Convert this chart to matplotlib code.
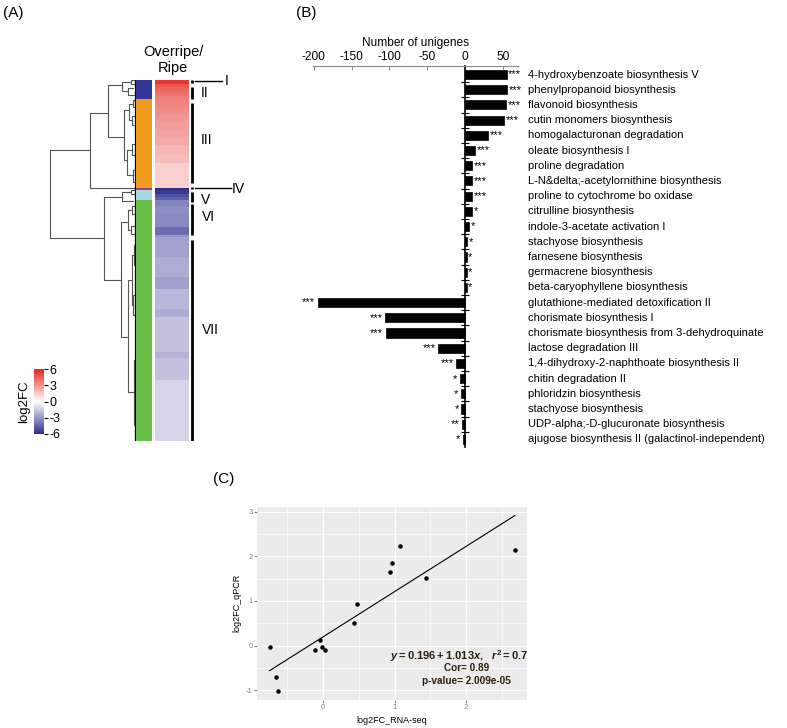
import matplotlib.pyplot as plt
import matplotlib.colors as mcolors
import numpy as np

plt.rcParams['font.family'] = ['Liberation Sans', 'DejaVu Sans']
plt.rcParams['axes.unicode_minus'] = False

# ---------------- data ----------------
# (A) heatmap bands: rows per band and log2FC value, top to bottom
heat_counts = [4, 3, 3, 3, 3, 3, 5, 5, 6, 6, 8, 8, 8, 9, 9, 25, 2, 4, 3, 3,
               6, 8, 13, 8, 2, 20, 20, 12, 20, 8, 35, 6, 22, 61]
heat_values = [5.5, 4.6, 4.3, 4.0, 3.8, 3.6, 3.5, 3.3, 3.1, 2.9, 2.7, 2.5, 2.3,
               2.0, 1.8, 1.3, -6.0, -5.6, -5.0, -4.5, -3.5, -3.2, -3.3, -4.1,
               -3.0, -2.6, -2.3, -2.7, -2.0, -2.3, -1.7, -2.2, -1.7, -1.2]
cluster_counts = [19, 89, 2, 10, 241]
cluster_colors = ['#34379A', '#F09C1E', '#9B3C8E', '#A6D9DB', '#6CC04A']

# cluster brackets (row start, row end) and labels
bracket_rows = [(0, 3), (7, 19), (23, 103), (107, 109), (112, 122), (124, 155), (160, 361)]
cluster_names = ['I', 'II', 'III', 'IV', 'V', 'VI', 'VII']
name_pos = [(38, 1), (16, 13), (18, 60), (49, 109), (17, 120), (19, 137), (21, 250)]

# dendrogram links: (merge height, row a, height a, row b, height b)
dendro_links = [
    (86, 70, 46, 158, 32),
    (46, 33, 28, 108, 1),
    (28, 5, 14, 57, 12),
    (14, 2, 5, 11, 8), (8, 8, 3, 15, 2), (5, 0, 1, 4, 2),
    (12, 30, 7, 80, 9), (7, 24, 3, 40, 4), (9, 70, 4, 95, 3),
    (4, 36, 1, 45, 2), (3, 20, 1, 27, 1), (4, 64, 1, 75, 2), (3, 90, 1, 102, 1),
    (32, 117, 14, 200, 15),
    (14, 112, 5, 121, 3), (5, 110, 1, 114, 2),
    (15, 142, 8, 257, 8),
    (8, 130, 4, 150, 5), (5, 146, 2, 154, 1), (4, 126, 1, 134, 2),
    (8, 200, 4, 312, 2),
    (4, 175, 2, 225, 3), (3, 215, 1, 235, 1), (2, 165, 0, 185, 1),
    (2, 280, 1, 345, 1), (1, 270, 0, 290, 0), (1, 335, 0, 355, 0),
]

# (B) pathways
pathways = [
    '4-hydroxybenzoate biosynthesis V', 'phenylpropanoid biosynthesis',
    'flavonoid biosynthesis', 'cutin monomers biosynthesis',
    'homogalacturonan degradation', 'oleate biosynthesis I', 'proline degradation',
    'L-N&delta;-acetylornithine biosynthesis', 'proline to cytochrome bo oxidase',
    'citrulline biosynthesis', 'indole-3-acetate activation I',
    'stachyose biosynthesis', 'farnesene biosynthesis', 'germacrene biosynthesis',
    'beta-caryophyllene biosynthesis', 'glutathione-mediated detoxification II',
    'chorismate biosynthesis I', 'chorismate biosynthesis from 3-dehydroquinate',
    'lactose degradation III', '1,4-dihydroxy-2-naphthoate biosynthesis II',
    'chitin degradation II', 'phloridzin biosynthesis', 'stachyose biosynthesis',
    'UDP-alpha;-D-glucuronate biosynthesis',
    'ajugose biosynthesis II (galactinol-independent)',
]
unigenes = [55, 56, 54, 52, 31, 13, 9, 9, 9, 9, 5, 3, 2, 2, 2,
            -195, -106, -105, -36, -12, -7, -6, -5, -4, -3]
stars = ['***'] * 9 + ['*'] * 6 + ['***'] * 5 + ['*', '*', '*', '**', '*']

# (C) qPCR validation
rnaseq = [-0.744, -0.656, -0.633, -0.107, -0.037, -0.009, 0.023, 0.433,
          0.479, 0.940, 0.967, 1.079, 1.442, 2.679]
qpcr = [-0.04, -0.71, -1.01, -0.10, 0.12, -0.04, -0.10, 0.50,
        0.925, 1.64, 1.86, 2.22, 1.52, 2.13]
fit_a, fit_b = 0.196, 1.013

# ---------------- figure ----------------
W, H = 787, 728
fig = plt.figure(figsize=(W / 100, H / 100), dpi=100)


def add_ax(x0, y0, x1, y1):
    return fig.add_axes([x0 / W, 1 - y1 / H, (x1 - x0) / W, (y1 - y0) / H])


n_rows = sum(heat_counts)
cmap = mcolors.LinearSegmentedColormap.from_list('bwr2', ['#2B2D8F', '#FFFFFF', '#E4261F'])

# dendrogram
ax_d = add_ax(45, 80, 136, 441)
for h, ya, ha, yb, hb in dendro_links:
    ax_d.plot([ha, h, h, hb], [ya, ya, yb, yb], color='#555555', lw=0.8)
ax_d.plot([0.8, 0.8], [0, n_rows], color='black', lw=0.9)
ax_d.set_xlim(91, 0)
ax_d.set_ylim(n_rows, 0)
ax_d.axis('off')

# cluster colour bar
ax_c = add_ax(136, 80, 152, 441)
clust_rows = np.repeat(np.arange(len(cluster_counts)), cluster_counts)
ax_c.imshow(clust_rows[:, None], aspect='auto', interpolation='nearest',
            cmap=mcolors.ListedColormap(cluster_colors), vmin=-0.5, vmax=len(cluster_colors) - 0.5)
ax_c.axis('off')

# heatmap
ax_h = add_ax(155, 80, 189, 441)
rows = np.repeat(heat_values, heat_counts)
ax_h.imshow(rows[:, None], aspect='auto', interpolation='nearest', cmap=cmap, vmin=-6, vmax=6)
ax_h.axis('off')
fig.text(173 / W, 1 - 60 / H, 'Overripe/\nRipe', ha='center', va='center', fontsize=10.5,
         linespacing=1.15)

# cluster brackets and labels
ax_l = add_ax(189, 80, 260, 441)
ax_l.set_xlim(0, 71)
ax_l.set_ylim(n_rows, 0)
ax_l.axis('off')
for (r0, r1), name, (lx, ly) in zip(bracket_rows, cluster_names, name_pos):
    ax_l.plot([3, 3], [r0, r1], color='black', lw=2, solid_capstyle='butt')
    ax_l.text(lx, ly, name, fontsize=10, va='center', ha='center')
ax_l.plot([6, 33], [1, 1], color='black', lw=1)
ax_l.plot([6, 42], [108, 108], color='black', lw=1)

# log2FC legend
ax_cb = add_ax(34, 369, 44, 434)
sm = plt.cm.ScalarMappable(cmap=cmap, norm=mcolors.Normalize(-6, 6))
cb = fig.colorbar(sm, cax=ax_cb, ticks=[6, 3, 0, -3, -6])
cb.outline.set_visible(False)
cb.ax.tick_params(labelsize=9, length=3, width=0.8, pad=1)
fig.text(24 / W, 1 - 402 / H, 'log2FC', rotation=90, ha='center', va='center', fontsize=9.5)

# ---------------- (B) ----------------
ax_b = add_ax(313, 66, 518, 447)
ypos = np.arange(len(pathways))
ax_b.barh(ypos, unigenes, height=0.6, color='black', edgecolor='black', linewidth=0.5)
ax_b.set_xlim(-201, 70)
ax_b.set_ylim(len(pathways) - 0.5, -0.56)
ax_b.xaxis.tick_top()
ax_b.xaxis.set_label_position('top')
ax_b.set_xticks([-200, -150, -100, -50, 0, 50])
ax_b.tick_params(axis='x', direction='in', length=3, color='#8a8a8a', labelsize=8.6, pad=2)
ax_b.set_xlabel('Number of unigenes', fontsize=8.6, labelpad=4)
for s in ['right', 'bottom']:
    ax_b.spines[s].set_visible(False)
ax_b.spines['top'].set_color('#8a8a8a')
ax_b.spines['left'].set_position(('data', 0))
ax_b.spines['left'].set_linewidth(1.2)
ax_b.set_yticks(ypos[:-1] + 0.5)
ax_b.set_yticklabels([])
ax_b.tick_params(axis='y', direction='inout', length=6, width=0.8)
for i, (v, s, name) in enumerate(zip(unigenes, stars, pathways)):
    if v > 0:
        ax_b.text(v + 2, i, s, fontsize=8, ha='left', va='center')
    else:
        ax_b.text(v - 3, i, s, fontsize=8, ha='right', va='center')
    ax_b.text(83, i, name, fontsize=8, ha='left', va='center', clip_on=False)

# ---------------- (C) ----------------
ax_s = add_ax(257.4, 506.9, 527, 699.6)
ax_s.set_facecolor('#EBEBEB')
ax_s.set_xlim(-0.915, 2.85)
ax_s.set_ylim(-1.206, 3.105)
ax_s.set_xticks([0, 1, 2])
ax_s.set_yticks([-1, 0, 1, 2, 3])
ax_s.set_xticks([-0.5, 0.5, 1.5, 2.5], minor=True)
ax_s.set_yticks([-0.5, 0.5, 1.5, 2.5], minor=True)
ax_s.grid(which='major', color='white', lw=0.9)
ax_s.grid(which='minor', color='white', lw=0.45)
ax_s.set_axisbelow(True)
for s in ax_s.spines.values():
    s.set_visible(False)
ax_s.tick_params(which='major', length=2, color='#7F7F7F', labelcolor='#7F7F7F', labelsize=5.5, pad=1.5)
ax_s.tick_params(which='minor', length=0)
xs = np.array([min(rnaseq), max(rnaseq)])
ax_s.plot(xs, fit_a + fit_b * xs, color='black', lw=0.8)
ax_s.scatter(rnaseq, qpcr, s=5, color='black', zorder=3)
ax_s.set_xlabel('log2FC_RNA-seq', fontsize=6.5, labelpad=3)
ax_s.set_ylabel('log2FC_qPCR', fontsize=6.5, labelpad=3)
plt.rcParams['mathtext.fontset'] = 'custom'
plt.rcParams['mathtext.rm'] = 'Liberation Sans:bold'
plt.rcParams['mathtext.it'] = 'Liberation Sans:italic:bold'
txt_col = '#2a2010'
ax_s.text(1.9, -0.23, r'$y = 0.196 + 1.013x,\ \ r^2 = 0.7$', fontsize=8,
          ha='center', va='center', color=txt_col)
ax_s.text(2.0, -0.51, 'Cor= 0.89', fontsize=7.2, ha='center', va='center',
          color=txt_col, fontweight='bold')
ax_s.text(2.0, -0.79, 'p-value= 2.009e-05', fontsize=7.2, ha='center', va='center',
          color=txt_col, fontweight='bold')

# panel labels
fig.text(3 / W, 1 - 13 / H, '(A)', fontsize=11, va='center')
fig.text(296 / W, 1 - 13 / H, '(B)', fontsize=11, va='center')
fig.text(213 / W, 1 - 479 / H, '(C)', fontsize=11, va='center')

fig.savefig('out.png', dpi=100)
